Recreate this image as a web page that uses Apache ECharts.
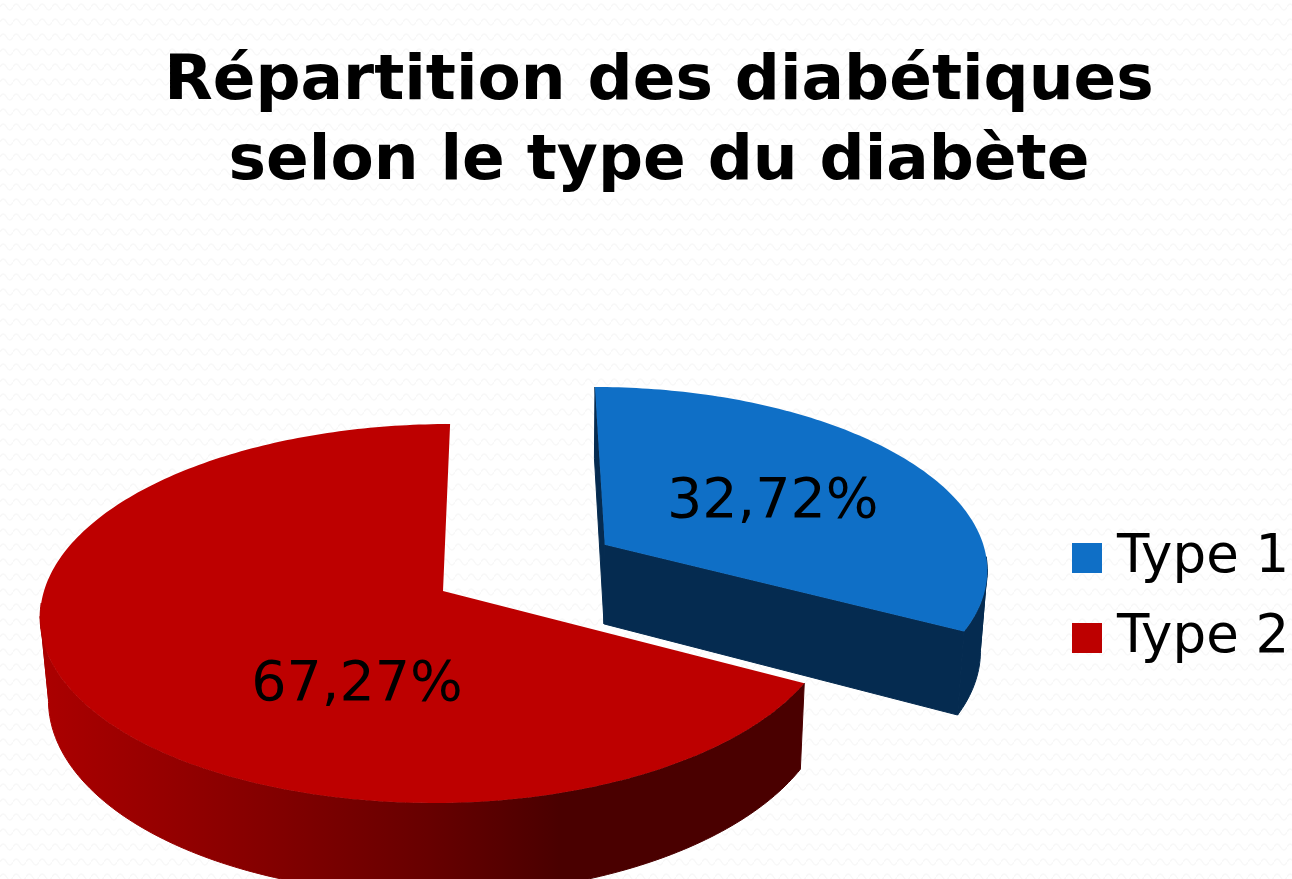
<!DOCTYPE html>
<html>
<head>
<meta charset="utf-8">
<style>
  html, body { margin: 0; padding: 0; background: #fff; overflow: hidden; }
  #pie3d { width: 1292px; height: 879px; }
</style>
<script src="https://cdn.jsdelivr.net/npm/echarts@6/dist/echarts.min.js"></script>
</head>
<body>
<div id="pie3d"></div>
<script>
var categories = ['Type 1', 'Type 2'];
var percentValues = [32.72, 67.27];
var explodeAmounts = [0.493, 0];
var titleLines = ['Répartition des diabétiques', 'selon le type du diabète'];

var topColors = ['#0f6fc6', '#bd0000'];
var blueSide = '#052b50';

// perspective of the pie, worked out from the picture
var view = { cx: 443, cy: 591, rxLeft: 399, rxRight: 390, ry: 186.8, persp: 0.1187, vanishX: 510 };
var depth = { shift: 79, growY: 0.05, refY: 543, shrinkX: 0.984, refX: 560 };
var labelOffset = [[168, -42], [-86, 95]];

var total = percentValues.reduce(function (a, b) { return a + b; }, 0);

function project(u, v) {
  var w = 1 - view.persp * v;
  var rx = u < 0 ? view.rxLeft : view.rxRight;
  return [
    view.vanishX + (view.cx - view.vanishX + rx * u) / w,
    view.cy + view.ry * v / w
  ];
}

function lower(p) {
  return [
    depth.refX + (p[0] - depth.refX) * depth.shrinkX,
    p[1] + depth.shift + (p[1] - depth.refY) * depth.growY
  ];
}

function sliceAngles(idx) {
  var start = 0;
  for (var i = 0; i < idx; i++) start += percentValues[i] / total * Math.PI * 2;
  return [start, start + percentValues[idx] / total * Math.PI * 2];
}

function poly(points, fill, stroke) {
  return {
    type: 'polygon',
    shape: { points: points },
    style: { fill: fill, stroke: stroke || null, lineWidth: stroke ? 1 : 0 }
  };
}

function wallPiece(points, fill) {
  return poly(points.concat(points.map(lower).reverse()), fill, fill);
}

function renderSlice(idx) {
  var ang = sliceAngles(idx);
  var mid = (ang[0] + ang[1]) / 2;
  var e = explodeAmounts[idx];
  var ou = e * Math.sin(mid), ov = -e * Math.cos(mid);
  var apex = project(ou, ov);
  var rim = [], frontRim = [];
  var steps = Math.ceil((ang[1] - ang[0]) / (Math.PI / 180));
  for (var i = 0; i <= steps; i++) {
    var t = ang[0] + (ang[1] - ang[0]) * i / steps;
    var p = project(ou + Math.sin(t), ov - Math.cos(t));
    rim.push(p);
    // only the front of the rim has a wall you can see
    if (-Math.cos(t) > 0.05) frontRim.push(p);
  }
  var sideFill = idx === 0 ? blueSide : new echarts.graphic.LinearGradient(48, 0, 800, 0, [
    { offset: 0, color: '#aa0000' },
    { offset: 0.5, color: '#680000' },
    { offset: 0.68, color: '#4a0000' },
    { offset: 1, color: '#4a0000' }
  ], true);

  var children = [];
  if (e > 0) {
    var a = rim[0], b = rim[rim.length - 1];
    children.push(poly([apex, a, lower(a), lower(apex)], blueSide, blueSide));
    children.push(poly([apex, b, lower(b), lower(apex)], blueSide, blueSide));
  }
  // the wall folds over at its outermost point, so it is cut in two there
  var fold = 0;
  frontRim.forEach(function (pt, n) {
    if (Math.abs(pt[0] - view.vanishX) > Math.abs(frontRim[fold][0] - view.vanishX)) fold = n;
  });
  children.push(wallPiece(frontRim.slice(0, fold + 1), sideFill));
  children.push(wallPiece(frontRim.slice(fold), sideFill));
  children.push(poly([apex].concat(rim), topColors[idx]));
  children.push({
    type: 'text',
    style: {
      x: apex[0] + labelOffset[idx][0],
      y: apex[1] + labelOffset[idx][1],
      text: percentValues[idx].toFixed(2).replace('.', ',') + '%',
      font: '55.5px "DejaVu Sans"',
      fill: '#000',
      align: 'center',
      verticalAlign: 'middle'
    }
  });
  return { type: 'group', children: children };
}

// faint wavy paper pattern behind the chart
function paperPattern() {
  var c = document.createElement('canvas');
  c.width = 13;
  c.height = 15;
  var g = c.getContext('2d');
  g.fillStyle = '#ffffff';
  g.fillRect(0, 0, 13, 15);
  g.strokeStyle = '#f8f8f8';
  g.lineWidth = 1.5;
  g.beginPath();
  g.moveTo(0, 7);
  g.quadraticCurveTo(3.25, 1, 6.5, 7);
  g.quadraticCurveTo(9.75, 13, 13, 7);
  g.stroke();
  return c;
}

var myChart = echarts.init(document.getElementById('pie3d'));

var option = {
  animation: false,
  backgroundColor: { image: paperPattern(), repeat: 'repeat' },
  title: {
    text: titleLines.join('\n'),
    left: 654,
    top: 38,
    textAlign: 'center',
    textStyle: {
      fontFamily: 'DejaVu Sans',
      fontWeight: 'bold',
      fontSize: 63,
      lineHeight: 80,
      color: '#000'
    }
  },
  legend: {
    data: categories,
    orient: 'vertical',
    left: 1072,
    top: 522.5,
    icon: 'rect',
    itemWidth: 30,
    itemHeight: 30,
    itemGap: 9,
    padding: 0,
    selectedMode: false,
    textStyle: { fontFamily: 'DejaVu Sans', fontSize: 53, color: '#000', lineHeight: 60, padding: [11, 0, 0, 10] }
  },
  series: categories.map(function (name, idx) {
    return {
      type: 'custom',
      name: name,
      coordinateSystem: 'none',
      silent: true,
      itemStyle: { color: topColors[idx] },
      data: [percentValues[idx]],
      renderItem: function () { return renderSlice(idx); }
    };
  })
};

myChart.setOption(option);
</script>
</body>
</html>
